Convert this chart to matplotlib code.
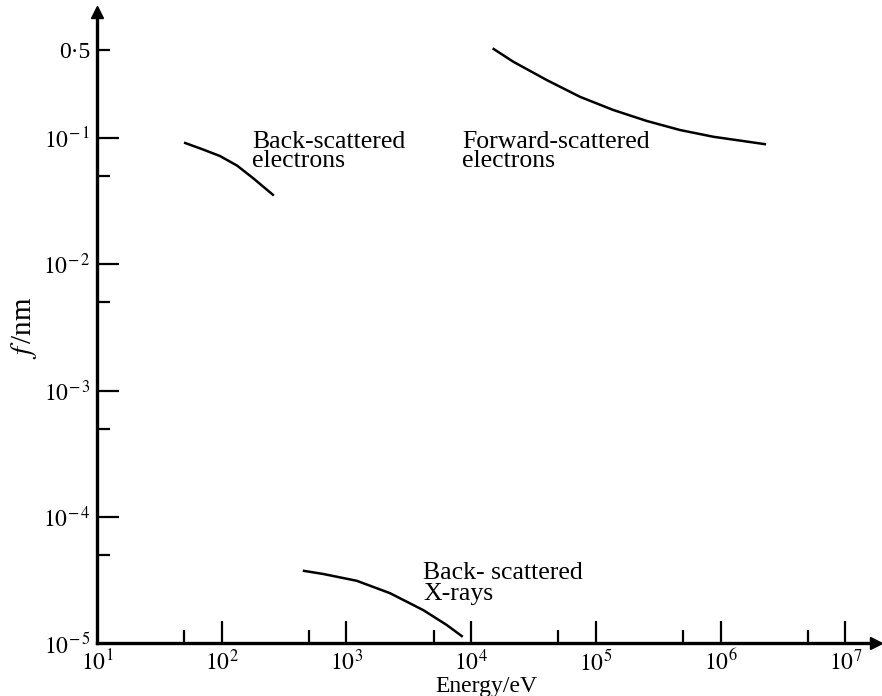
import numpy as np
import matplotlib
matplotlib.use("Agg")
import matplotlib.pyplot as plt
from matplotlib.ticker import FixedLocator, FixedFormatter, NullFormatter

plt.rcParams['font.family'] = ['Liberation Serif', 'DejaVu Serif']
plt.rcParams['mathtext.fontset'] = 'stix'

# Data (energy in eV, f in nm)
bse_energy = [49.9, 70.8, 96.8, 132.7, 178, 262]
bse_f = [0.0920, 0.0811, 0.0720, 0.0605, 0.0482, 0.0350]

fse_energy = [14890, 21780, 40360, 74650, 138000, 255900, 473000, 875000, 2.32e6]
fse_f = [0.513, 0.402, 0.288, 0.212, 0.1667, 0.1365, 0.1157, 0.1023, 0.0891]

xray_energy = [447, 653, 1211, 2239, 4141, 6368, 8570]
xray_f = [3.74e-5, 3.52e-5, 3.11e-5, 2.48e-5, 1.82e-5, 1.39e-5, 1.12e-5]

x_major = [1e1, 1e2, 1e3, 1e4, 1e5, 1e6, 1e7]
x_major_labels = [r'$10^{1}$', r'$10^{2}$', r'$10^{3}$', r'$10^{4}$', r'$10^{5}$', r'$10^{6}$', r'$10^{7}$']
x_minor = [5e1, 5e2, 5e3, 5e4, 5e5, 5e6]

y_major = [1e-5, 1e-4, 1e-3, 1e-2, 1e-1]
y_major_labels = [r'$10^{-\,5}$', r'$10^{-\,4}$', r'$10^{-\,3}$', r'$10^{-\,2}$', r'$10^{-\,1}$']
y_minor = [5e-5, 5e-4, 5e-3, 5e-2, 0.5]
y_minor_labels = ['', '', '', '', '0·5']

W, H = 882, 696
fig = plt.figure(figsize=(W / 100, H / 100), dpi=100)
left, right, bottom, top = 97, 876, 643, 12
ax = fig.add_axes([left / W, 1 - bottom / H, (right - left) / W, (bottom - top) / H])

ax.set_xscale('log')
ax.set_yscale('log')
dec_x = 124.7
dec_y = 126.25
ax.set_xlim(10, 10 ** (1 + (right - left) / dec_x))
ax.set_ylim(1e-5, 10 ** (-5 + (bottom - top) / dec_y))

lw = 1.8
for xs, ys in [(bse_energy, bse_f), (fse_energy, fse_f), (xray_energy, xray_f)]:
    ax.plot(xs, ys, color='black', lw=lw, solid_capstyle='butt', solid_joinstyle='round')

for s in ['top', 'right']:
    ax.spines[s].set_visible(False)
for s in ['left', 'bottom']:
    ax.spines[s].set_linewidth(2.4)

ax.plot(1, 0, marker='>', color='black', markersize=8, transform=ax.transAxes, clip_on=False)
ax.plot(0, 1, marker='^', color='black', markersize=8, transform=ax.transAxes, clip_on=False)

ax.xaxis.set_major_locator(FixedLocator(x_major))
ax.xaxis.set_major_formatter(FixedFormatter(x_major_labels))
ax.xaxis.set_minor_locator(FixedLocator(x_minor))
ax.xaxis.set_minor_formatter(NullFormatter())
ax.yaxis.set_major_locator(FixedLocator(y_major))
ax.yaxis.set_major_formatter(FixedFormatter(y_major_labels))
ax.yaxis.set_minor_locator(FixedLocator(y_minor))
ax.yaxis.set_minor_formatter(FixedFormatter(y_minor_labels))

ax.tick_params(axis='both', which='major', direction='in', length=15.5, width=1.6, labelsize=17)
ax.tick_params(axis='both', which='minor', direction='in', length=9.5, width=1.6, labelsize=17)
ax.tick_params(axis='x', which='major', pad=5)
ax.tick_params(axis='y', which='both', pad=5)
ax.yaxis.get_major_ticks()[0].tick1line.set_visible(False)
ax.xaxis.get_major_ticks()[0].tick1line.set_visible(False)

ax.set_xlabel('Energy/eV', fontsize=17, labelpad=0)
ax.set_ylabel(r'$f\,$/nm', fontsize=21, labelpad=3)

tfs = 18.5
ax.text(252 / W, 1 - 167 / H, 'Back-scattered\nelectrons', transform=fig.transFigure,
        fontsize=tfs, ha='left', va='baseline', linespacing=0.85)
ax.text(462 / W, 1 - 167 / H, 'Forward-scattered\nelectrons', transform=fig.transFigure,
        fontsize=tfs, ha='left', va='baseline', linespacing=0.85)
ax.text(423 / W, 1 - 600 / H, 'Back- scattered\nX-rays', transform=fig.transFigure,
        fontsize=tfs, ha='left', va='baseline', linespacing=0.95)

fig.savefig('out.png', dpi=100)
